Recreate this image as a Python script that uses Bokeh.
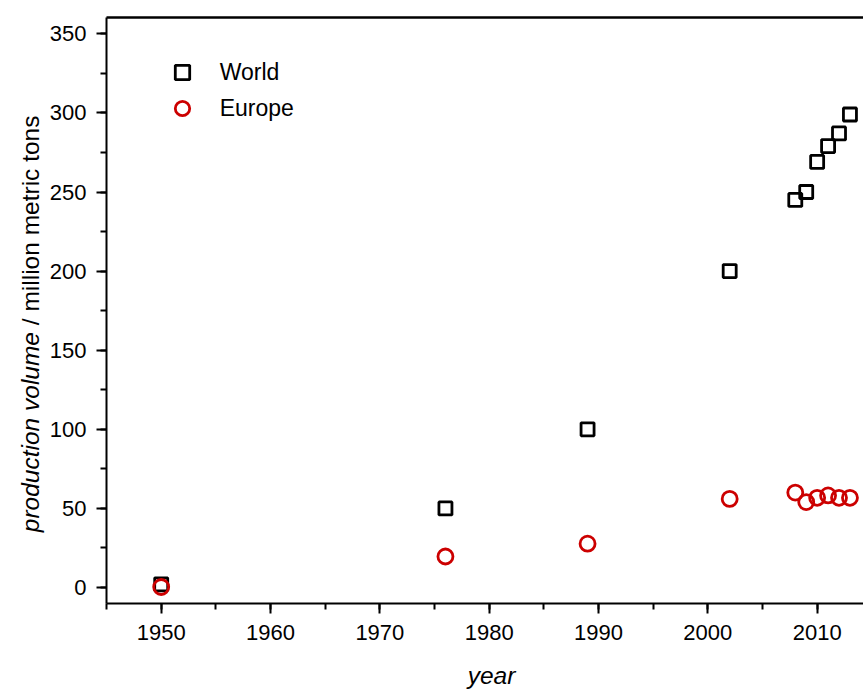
from bokeh.plotting import figure
from bokeh.models import (Range1d, SingleIntervalTicker, LinearAxis, FixedTicker,
                          Label, Legend, LegendItem, ColumnDataSource)
from bokeh.embed import file_html
from bokeh.resources import INLINE
import math

# ---- data ----
years = [1950, 1976, 1989, 2002, 2008, 2009, 2010, 2011, 2012, 2013]
world = [2, 50, 100, 200, 245, 250, 269, 279, 287, 299]
europe = [0.3, 19.6, 27.7, 56, 60, 54, 56.7, 58.2, 56.7, 56.7]
series_names = ["World", "Europe"]
x_label_italic = "year"
y_label_italic = "production volume"
y_label_regular = "/ million metric tons"

# axis extents (data units)
x_axis_start, x_axis_end = 1945, 2014.24
y_axis_start, y_axis_end = -10.3, 360.1

FONT = "Liberation Sans"
RED = "#CC0000"
W, H = 863, 691

src = ColumnDataSource(dict(year=years, world=world, europe=europe))

p = figure(width=W, height=H, output_backend="svg", toolbar_location=None,
           x_range=Range1d(1935.30, 2014.24), y_range=Range1d(-65.74, 371.05),
           x_axis_location=None, y_axis_location=None,
           min_border_left=0, min_border_right=0, min_border_top=0, min_border_bottom=0)
p.xgrid.visible = False
p.ygrid.visible = False
p.outline_line_color = None
p.background_fill_color = "white"
p.border_fill_color = "white"


def style(ax, standoff):
    ax.axis_line_width = 2
    ax.axis_line_color = "black"
    ax.major_tick_line_width = 2
    ax.minor_tick_line_width = 2
    ax.major_tick_line_color = "black"
    ax.minor_tick_line_color = "black"
    ax.major_tick_in = 0
    ax.major_tick_out = 10
    ax.minor_tick_in = 0
    ax.minor_tick_out = 6
    ax.major_label_text_font = FONT
    ax.major_label_text_font_size = "22px"
    ax.major_label_text_color = "black"
    ax.major_label_standoff = standoff


xaxis = LinearAxis(ticker=SingleIntervalTicker(interval=10, num_minor_ticks=2),
                   fixed_location=y_axis_start, bounds=(x_axis_start, x_axis_end))
style(xaxis, 11)
p.add_layout(xaxis, "below")

yaxis = LinearAxis(ticker=SingleIntervalTicker(interval=50, num_minor_ticks=2),
                   fixed_location=x_axis_start, bounds=(y_axis_start, y_axis_end))
style(yaxis, 10)
p.add_layout(yaxis, "left")

top = LinearAxis(ticker=FixedTicker(ticks=[]), major_label_text_font_size="0px",
                 major_tick_out=0, minor_tick_out=0, axis_line_width=2.5,
                 axis_line_color="black", fixed_location=y_axis_end,
                 bounds=(x_axis_start, x_axis_end))
p.add_layout(top, "above")

r_w = p.scatter("year", "world", source=src, marker="square", size=13,
                fill_color=None, line_color="black", line_width=2.8)
r_e = p.scatter("year", "europe", source=src, marker="circle", size=15,
                fill_color=None, line_color=RED, line_width=2.8)

legend = Legend(items=[LegendItem(label=series_names[0], renderers=[r_w]),
                       LegendItem(label=series_names[1], renderers=[r_e])],
                location=(163.7, 565), border_line_color=None,
                background_fill_alpha=0, padding=0, margin=0, spacing=0,
                glyph_width=36, glyph_height=36, label_height=36,
                label_standoff=20, label_text_font=FONT,
                label_text_font_size="23px", label_text_color="black")
p.add_layout(legend)

fs = 24.5
y0 = H - 531.7
lab1 = Label(x=30, y=y0, x_units="screen", y_units="screen", text=y_label_italic,
             angle=math.pi / 2, text_font=FONT, text_font_style="italic",
             text_font_size=f"{fs}px", text_baseline="alphabetic", text_align="left",
             text_color="black")
lab2 = Label(x=30, y=y0 + (8.17 + 0.278) * fs, x_units="screen", y_units="screen",
             text=y_label_regular, angle=math.pi / 2, text_font=FONT,
             text_font_size=f"{fs}px", text_baseline="alphabetic", text_align="left",
             text_color="black")
lab3 = Label(x=491, y=16, x_units="screen", y_units="screen", text=x_label_italic,
             text_font=FONT, text_font_style="italic", text_font_size=f"{fs}px",
             text_baseline="alphabetic", text_align="center", text_color="black")
for lab in (lab1, lab2, lab3):
    p.add_layout(lab)

open("out.html", "w").write(file_html(p, INLINE))
